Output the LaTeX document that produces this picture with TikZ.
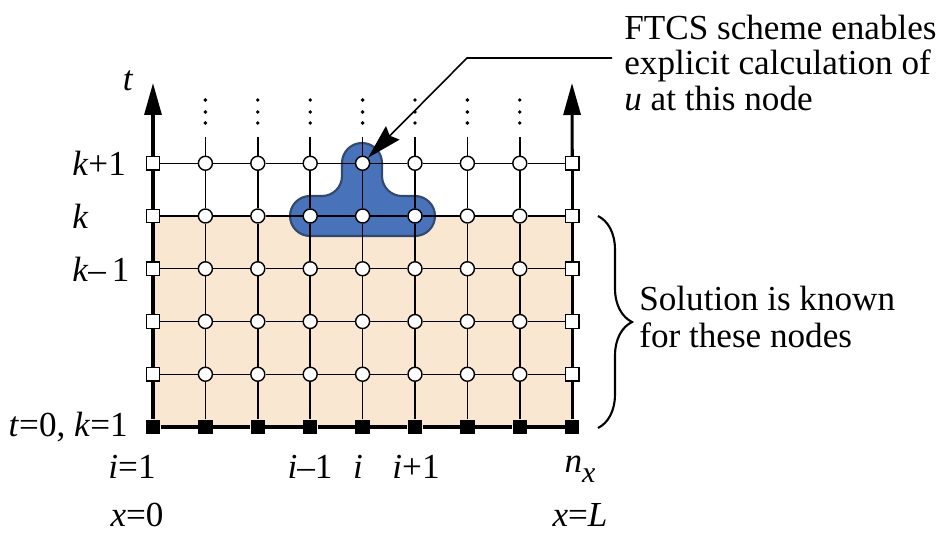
\documentclass[tikz,border=0pt]{standalone}
\usepackage{fontspec}
\setmainfont{Liberation Serif}
\usepackage{tikz}
\usetikzlibrary{arrows.meta, positioning, decorations.pathreplacing}
\definecolor{known}{RGB}{250,231,209}
\definecolor{stencil}{RGB}{72,114,186}
\definecolor{stencilrim}{RGB}{50,72,110}
\tikzstyle{gridline} = [line width=0.8pt]
\tikzstyle{thickline} = [line width=1.8pt]
\tikzstyle{axis} = [
    line width=1.8pt,
    -{Triangle[length=0.64cm,width=0.34cm]}
]
\tikzstyle{interior} = [circle, draw, line width=0.8pt, fill=white,
    inner sep=0pt, minimum size=0.28cm]
\tikzstyle{boundary} = [rectangle, draw, line width=0.8pt, fill=white,
    inner sep=0pt, minimum size=0.27cm]
\tikzstyle{initial} = [rectangle, fill=black, inner sep=0pt,
    minimum size=0.29cm]
\tikzstyle{lbl} = [inner sep=0pt, font=\fontsize{20}{20}\selectfont]
\tikzstyle{arrow} = [
    line width=0.9pt,
    -{Stealth[length=0.7cm,width=0.38cm,inset=0.08cm]}
]

\begin{document}
\begin{tikzpicture}[x=0.02cm,y=-0.02cm]
\useasboundingbox (0,0) rectangle (941,534);

% grid points
\foreach \i in {1,...,9}
  \foreach \j in {1,...,6}
    \coordinate (p-\i-\j) at ({153+52.4*(\i-1)},{427-52.75*(\j-1)});

% region where the solution is known
\fill[known] (p-1-1) rectangle (p-9-5);

% FTCS stencil
\filldraw[fill=stencil, draw=stencilrim, line width=1.2pt,
  rounded corners=0.4cm]
  (362,236) -- (290,236) -- (290,196) -- (342,196) -- (342,143)
  -- (382,143) -- (382,196) -- (435,196) -- (435,236) -- cycle;

% nodes
\foreach \i in {1,...,9}
  \node[initial] (n-\i-1) at (p-\i-1) {};
\foreach \j in {2,...,6} {
  \node[boundary] (n-1-\j) at (p-1-\j) {};
  \node[boundary] (n-9-\j) at (p-9-\j) {};
  \foreach \i in {2,...,8}
    \node[interior] (n-\i-\j) at (p-\i-\j) {};
}

% grid lines
\foreach \i [evaluate=\i as \ii using int(\i+1)] in {1,...,8} {
  \draw[thickline] (n-\i-1) -- (n-\ii-1);
  \foreach \j in {2,3,4,6}
    \draw[gridline] (n-\i-\j) -- (n-\ii-\j);
  \draw[line width=1.1pt] (n-\i-5) -- (n-\ii-5);
}
\foreach \j [evaluate=\j as \jj using int(\j+1)] in {1,...,5} {
  \draw[thickline] (n-1-\j) -- (n-1-\jj);
  \draw[thickline] (n-9-\j) -- (n-9-\jj);
  \foreach \i in {2,...,8}
    \draw[gridline] (n-\i-\j) -- (n-\i-\jj);
}
\foreach \i in {2,...,8} {
  \coordinate (top-\i) at ({153+52.4*(\i-1)},137);
  \draw[gridline] (n-\i-6) -- (top-\i);
  \foreach \d in {100,112,123}
    \fill ({153+52.4*(\i-1)},\d) circle (1.1pt);
}

% time axes
\coordinate (tip-l) at (153,83);
\coordinate (tip-r) at (572,83);
\draw[axis] (n-1-6) -- (tip-l);
\draw[axis] (n-9-6) -- (tip-r);
\node[lbl] (tlab) at (128,81) {\textit{t}};

% row labels
\node[lbl, anchor=west] (kp) at (72,163) {\textit{k}+1};
\node[lbl, anchor=west] (k) at (72,216) {\textit{k}};
\node[lbl, anchor=west] (km) at (72,269) {\textit{k}–\,1};
\node[lbl, anchor=east] (k0) at (128,427) {\textit{t}=0, \textit{k}=1};

% column labels
\node[lbl] (i1) at (132,467) {\textit{i}=1};
\node[lbl] (x0) at (137,515) {\textit{x}=0};
\node[lbl] (im) at (310,467) {\textit{i}–1};
\node[lbl] (ic) at (358,467) {\textit{i}};
\node[lbl] (ip) at (416,467) {\textit{i}+1};
\node[lbl] (nx) at (580,469)
  {\textit{n}\raisebox{-0.6ex}{\fontsize{17}{17}\selectfont\textit{x}}};
\node[lbl] (xl) at (580,515) {\textit{x}=\textit{L}};

% note on the stencil
\node[lbl, anchor=west, align=left,
  font=\fontsize{20}{20}\selectfont] (note) at (624,63)
  {FTCS scheme enables\\explicit calculation of\\\textit{u} at this node};
\coordinate (bend) at (467,58);
\draw[arrow] ([xshift=-0.24cm]bend -| note.west) -- (bend) -- (n-5-6);

% known nodes
\draw[decorate, decoration={brace, amplitude=0.68cm}, line width=1.2pt]
  (598,216) -- (598,428);
\node[lbl, anchor=west, align=left,
  font=\fontsize{20}{21.5}\selectfont] (known) at (639,317)
  {Solution is known\\for these nodes};

\end{tikzpicture}
\end{document}
